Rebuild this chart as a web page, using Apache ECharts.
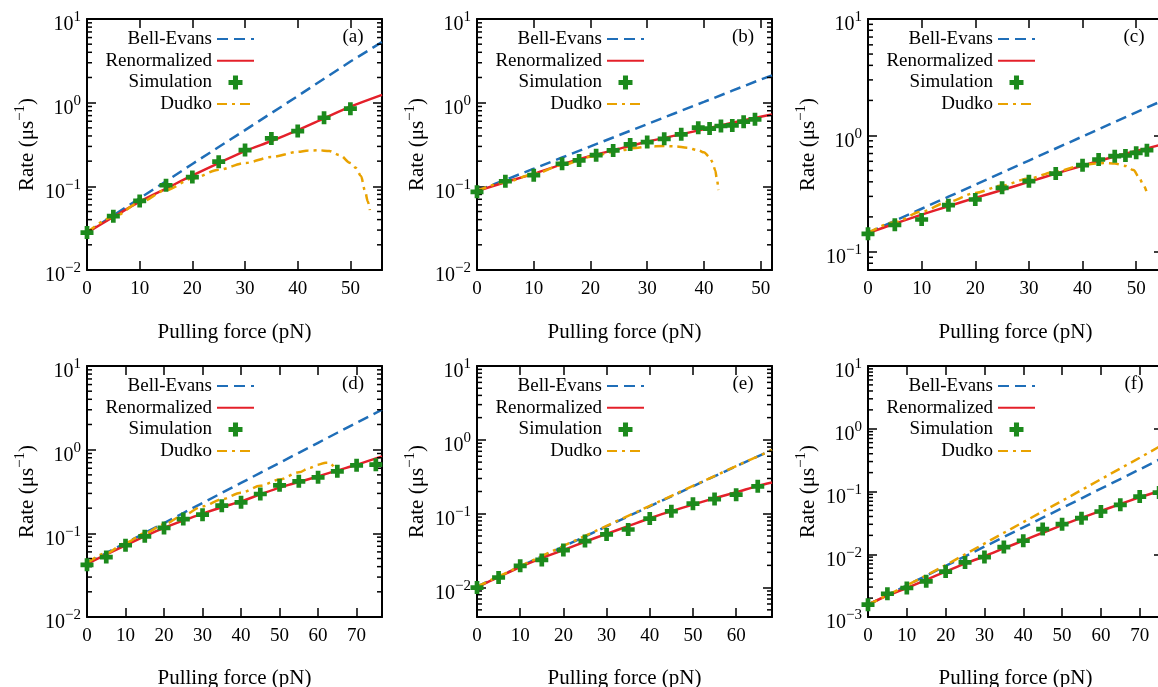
<!DOCTYPE html>
<html><head><meta charset="utf-8">
<script src="https://cdn.jsdelivr.net/npm/echarts@6/dist/echarts.min.js"></script>
<style>html,body{margin:0;padding:0;background:#fff}#c{width:1158px;height:687px}</style>
</head><body><div id="c"></div>
<script>
// ---------- data ----------
// Panel (a)
const aLineF   = [0,5,10,15,20,25,30,35,40,45,50,56];
const aBell    = [0.028,0.045,0.072,0.115,0.185,0.295,0.47,0.75,1.2,1.93,3.1,5.3];
const aRenorm  = [0.028,0.043,0.0655,0.094,0.135,0.19,0.264,0.348,0.47,0.65,0.896,1.24];
const aSimF    = [0,5,10,15,20,25,30,35,40,45,50];
const aSim     = [0.028,0.044,0.067,0.103,0.129,0.197,0.271,0.374,0.458,0.66,0.847];
const aDudkoF  = [0,5,10,15,20,25,30,35,40,42,44,46,48,50,51,52,52.8,53.3,53.7];
const aDudko   = [0.028,0.043,0.064,0.09,0.124,0.158,0.19,0.224,0.258,0.268,0.27,0.264,0.236,0.19,0.167,0.133,0.087,0.066,0.052];
// Panel (b)
const bLineF   = [0,5,10,15,20,25,30,35,40,45,50,52];
const bBell    = [0.088,0.1196,0.1625,0.221,0.30,0.408,0.554,0.753,1.02,1.39,1.89,2.12];
const bRenorm  = [0.088,0.112,0.141,0.183,0.23,0.281,0.341,0.406,0.48,0.576,0.68,0.725];
const bSimF    = [0,5,10,15,18,21,24,27,30,33,36,39,41,43,45,47,49];
const bSim     = [0.086,0.115,0.136,0.186,0.204,0.236,0.269,0.317,0.338,0.37,0.418,0.502,0.49,0.526,0.535,0.593,0.632];
const bDudkoF  = [0,5,10,15,20,25,28,30,33,35,37,39,40,41,41.5,42,42.3,42.55];
const bDudko   = [0.088,0.112,0.14,0.18,0.225,0.267,0.288,0.298,0.303,0.30,0.29,0.27,0.255,0.225,0.195,0.155,0.12,0.09];
// Panel (c)
const cLineF   = [0,5,10,15,20,25,30,35,40,45,50,55];
const cBell    = [0.146,0.185,0.235,0.298,0.378,0.48,0.609,0.773,0.981,1.245,1.58,2.0];
const cRenorm  = [0.145,0.175,0.209,0.247,0.291,0.34,0.40,0.47,0.55,0.64,0.735,0.84];
const cSimF    = [0,5,10,15,20,25,30,35,40,43,46,48,50,52];
const cSim     = [0.143,0.171,0.19,0.252,0.282,0.355,0.405,0.471,0.556,0.622,0.664,0.673,0.71,0.748];
const cDudkoF  = [0,5,10,15,20,25,30,35,40,42,44,46,48,49.5,50.5,51.3,51.9];
const cDudko   = [0.146,0.18,0.222,0.27,0.321,0.372,0.427,0.49,0.553,0.572,0.58,0.574,0.548,0.505,0.44,0.38,0.333];
// Panel (d)
const dLineF   = [0,5,10,15,20,25,30,35,40,45,50,55,60,65,70,76.6];
const dBell    = [0.044,0.058,0.0765,0.1008,0.1328,0.175,0.2307,0.304,0.4007,0.528,0.696,0.917,1.209,1.593,2.1,3.0];
const dRenorm  = [0.043,0.056,0.072,0.092,0.116,0.142,0.172,0.205,0.241,0.292,0.352,0.41,0.48,0.565,0.66,0.83];
const dSimF    = [0,5,10,15,20,25,30,35,40,45,50,55,60,65,70,75];
const dSim     = [0.042,0.052,0.072,0.092,0.116,0.148,0.167,0.214,0.235,0.295,0.375,0.418,0.467,0.551,0.65,0.662];
const dDudkoF  = [0,5,10,15,20,25,30,35,40,45,50,55,58,60,62,63,64,64.6];
const dDudko   = [0.044,0.058,0.077,0.1,0.128,0.165,0.21,0.255,0.305,0.37,0.44,0.536,0.61,0.66,0.70,0.70,0.64,0.55];
// Panel (e)
const eLineF   = [0,10,20,30,40,50,60,68.3];
const eBell    = [0.0103,0.0193,0.036,0.0673,0.126,0.235,0.44,0.73];
const eDudko   = [0.0103,0.0195,0.0366,0.0685,0.128,0.238,0.442,0.73];
const eRenF    = [0,5,10,15,20,25,30,35,40,45,50,55,60,65,68.3];
const eRenorm  = [0.0101,0.0139,0.019,0.025,0.0322,0.0418,0.0535,0.068,0.087,0.108,0.133,0.162,0.195,0.238,0.265];
const eSimF    = [0,5,10,15,20,25,30,35,40,45,50,55,60,65];
const eSim     = [0.01,0.0137,0.0197,0.0237,0.0322,0.0427,0.0525,0.0612,0.086,0.108,0.137,0.158,0.181,0.235];
// Panel (f)
const fLineF   = [0,10,20,30,40,50,60,70,76];
const fBell    = [0.00157,0.00319,0.0065,0.0132,0.0268,0.0545,0.111,0.225,0.345];
const fDudko   = [0.00157,0.00318,0.0067,0.0148,0.0325,0.071,0.157,0.345,0.56];
const fRenF    = [0,5,10,15,20,25,30,35,40,45,50,55,60,65,70,75,76];
const fRenorm  = [0.00157,0.0022,0.0029,0.0039,0.0053,0.0071,0.0093,0.0124,0.0165,0.022,0.0292,0.038,0.049,0.063,0.081,0.101,0.106];
const fSimF    = [0,5,10,15,20,25,30,35,40,45,50,55,60,65,70,75];
const fSim     = [0.00157,0.00235,0.0029,0.0037,0.0053,0.0074,0.009,0.013,0.0164,0.0252,0.0302,0.0376,0.048,0.0614,0.083,0.096];

// axis ranges and labels
const panelLabels = ['(a)','(b)','(c)','(d)','(e)','(f)'];
const xMax = [56,52,55,76.6,68.3,76];
const yMin = [0.01,0.01,0.07,0.01,0.004,0.001];
const yMax = [10,10,10,10,10,10];
const dudkoSmooth = [0.3,0.3,0.3,0.3,0,0];
const legendNames = ['Bell-Evans','Renormalized','Simulation','Dudko'];
const xTitle = 'Pulling force (pN)';

// ---------- styling / layout ----------
const FONT = 'Liberation Serif';
const COL = {bell:'#1f6eb8', ren:'#e4202a', sim:'#1c8a1c', dud:'#e9a200'};
const PLUS = 'path://M32,0H68V32H100V68H68V100H32V68H0V32H32Z';
const colLeft = [87,477,868], rowTop = [19,366], GW = 295, GH = 251;

const panels = [
  {bell:[aLineF,aBell], ren:[aLineF,aRenorm], sim:[aSimF,aSim], dud:[aDudkoF,aDudko]},
  {bell:[bLineF,bBell], ren:[bLineF,bRenorm], sim:[bSimF,bSim], dud:[bDudkoF,bDudko]},
  {bell:[cLineF,cBell], ren:[cLineF,cRenorm], sim:[cSimF,cSim], dud:[cDudkoF,cDudko]},
  {bell:[dLineF,dBell], ren:[dLineF,dRenorm], sim:[dSimF,dSim], dud:[dDudkoF,dDudko]},
  {bell:[eLineF,eBell], ren:[eRenF,eRenorm], sim:[eSimF,eSim], dud:[eLineF,eDudko]},
  {bell:[fLineF,fBell], ren:[fRenF,fRenorm], sim:[fSimF,fSim], dud:[fLineF,fDudko]}
];
const zip = (xs, ys) => xs.map((x, i) => [x, ys[i]]);

const grid = [], xAxis = [], yAxis = [], series = [], legend = [], graphic = [];
const axisLine = {show:true, onZero:false, lineStyle:{color:'#000', width:2}};
const tick = {show:true, inside:true, length:9, lineStyle:{color:'#000', width:1.5}};
const supRich = (base, sup, raise) => ({
  b:{fontFamily:FONT, fontSize:base, color:'#000', verticalAlign:'bottom', lineHeight:base},
  s:{fontFamily:FONT, fontSize:sup, color:'#000', verticalAlign:'bottom', lineHeight:sup, padding:[0,0,raise,0]}
});
const hideSym = {color:'rgba(0,0,0,0)', borderWidth:0, opacity:0};
const legendData = legendNames.map(n => n === 'Simulation' ? {name:n} : {name:n, itemStyle:hideSym});

panels.forEach((p, i) => {
  const col = i % 3, row = Math.floor(i / 3);
  const L = colLeft[col], T = rowTop[row];
  grid.push({left:L, top:T, width:GW, height:GH, containLabel:false, outerBoundsMode:'none'});
  xAxis.push({gridIndex:i, type:'value', min:0, max:xMax[i], interval:10, position:'bottom',
    axisLine, axisTick:tick, splitLine:{show:false},
    axisLabel:{margin:10, color:'#000', fontFamily:FONT, fontSize:19, showMaxLabel:false,
      formatter:v => (Math.abs(v % 10) < 1e-9 ? String(v) : '')},
    name:xTitle, nameLocation:'middle', nameGap: row === 0 ? 52 : 51,
    nameTextStyle:{fontFamily:FONT, fontSize:21, color:'#000'}});
  xAxis.push({gridIndex:i, type:'value', min:0, max:xMax[i], interval:10, position:'top',
    axisLine, axisTick:tick, axisLabel:{show:false}, splitLine:{show:false}});
  yAxis.push({gridIndex:i, type:'log', logBase:10, min:yMin[i], max:yMax[i], position:'left',
    axisLine, axisTick:tick, splitLine:{show:false}, minorTick:{show:false},
    axisLabel:{margin:6, padding:[12,0,0,0], rich:supRich(20, 15, 10),
      formatter:v => { const e = Math.log10(v), r = Math.round(e);
        if (Math.abs(e - r) > 1e-6) return '';
        return '{b|10}{s|' + (r < 0 ? '\u2212' + (-r) : String(r)) + '}'; }},
    name:'{b|Rate (\u03bcs}{s|\u22121}{b|)}', nameLocation:'middle', nameGap:49,
    nameTextStyle:{fontFamily:FONT, rich:supRich(21, 15, 10)}});
  yAxis.push({gridIndex:i, type:'log', logBase:10, min:yMin[i], max:yMax[i], position:'right',
    axisLine, axisTick:tick, axisLabel:{show:false}, splitLine:{show:false}});

  const minor = [];
  for (let d = Math.floor(Math.log10(yMin[i]) + 1e-9); d < Math.log10(yMax[i]); d++)
    for (let k = 2; k <= 9; k++) { const v = k * Math.pow(10, d); if (v > yMin[i] * 1.0001 && v < yMax[i]) minor.push([0, v]); }
  series.push({type:'custom', name:'minor' + i, xAxisIndex:2*i, yAxisIndex:2*i, silent:true, data:minor, z:3,
    renderItem:(params, api) => {
      const cs = params.coordSys; const y = api.coord([api.value(0), api.value(1)])[1];
      return {type:'group', children:[
        {type:'line', shape:{x1:cs.x, y1:y, x2:cs.x + 5, y2:y}, style:{stroke:'#000', lineWidth:1.5}},
        {type:'line', shape:{x1:cs.x + cs.width - 5, y1:y, x2:cs.x + cs.width, y2:y}, style:{stroke:'#000', lineWidth:1.5}}
      ]};
    }});

  const common = {xAxisIndex:2*i, yAxisIndex:2*i, symbol:'none'};
  series.push(Object.assign({type:'line', name:'Bell-Evans', data:zip(...p.bell), z:2,
    lineStyle:{color:COL.bell, width:2.5, type:[11,6]}, itemStyle:{color:COL.bell}}, common));
  series.push(Object.assign({type:'line', name:'Renormalized', data:zip(...p.ren), z:2, smooth:0.3,
    lineStyle:{color:COL.ren, width:2.5, type:'solid'}, itemStyle:{color:COL.ren}}, common));
  series.push({type:'scatter', name:'Simulation', xAxisIndex:2*i, yAxisIndex:2*i, data:zip(...p.sim), z:5,
    symbol:PLUS, symbolSize:13, symbolKeepAspect:true, itemStyle:{color:COL.sim, opacity:1}});
  series.push(Object.assign({type:'line', name:'Dudko', data:zip(...p.dud), z:2,
    smooth:dudkoSmooth[i], smoothMonotone:'x',
    lineStyle:{color:COL.dud, width:2.5, type:[10,5,3,5]}, itemStyle:{color:COL.dud}}, common));

  legend.push({data:legendData, orient:'vertical', align:'right', right:1158 - (L + 168), top:T + 10.5,
    itemWidth:37, itemHeight:14, itemGap:2.7, padding:0, selectedMode:false,
    textStyle:{fontFamily:FONT, fontSize:19, color:'#000'}});
  graphic.push({type:'text', x:L + 266, y:T + 18, silent:true,
    style:{text:panelLabels[i], font:'19px "Liberation Serif"', fill:'#000', textAlign:'center', textVerticalAlign:'middle', align:'center', verticalAlign:'middle'}});
});

const chart = echarts.init(document.getElementById('c'), null, {renderer:'canvas'});
chart.setOption({animation:false, backgroundColor:'#fff', textStyle:{fontFamily:FONT}, grid, xAxis, yAxis, series, legend, graphic});
</script></body></html>
